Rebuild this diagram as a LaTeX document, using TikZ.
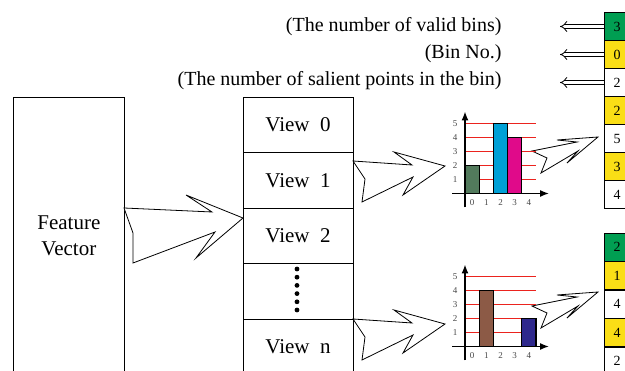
\documentclass[tikz,border=0pt]{standalone}
\usepackage{fontspec}
\setmainfont{Liberation Serif}
\usetikzlibrary{arrows.meta}

\definecolor{binGreen}{RGB}{0,158,82}
\definecolor{binYellow}{RGB}{250,222,22}
\definecolor{gridRed}{RGB}{235,35,30}
\definecolor{barGreen}{RGB}{82,122,92}
\definecolor{barCyan}{RGB}{0,160,214}
\definecolor{barMagenta}{RGB}{224,10,138}
\definecolor{barBrown}{RGB}{140,90,70}
\definecolor{barNavy}{RGB}{46,40,140}
\definecolor{tickGray}{RGB}{70,70,70}

% red level bands of one small histogram, origin at the axes crossing
\newcommand\histgrid{%
  \foreach \k in {1,...,5}
    \fill[gridRed] (0,-\k*14-0.9) rectangle (71,-\k*14+0.9);
}
% tick numbers of one small histogram
\newcommand\histticks{%
  \foreach \k in {1,...,5}
    \node[ticklab] at (-10,-\k*14) {\k};
  \foreach \i in {0,...,4}
    \node[ticklab] at (\i*14.2+7.1,9) {\i};
}
% one bar: bin, height, colour
\newcommand\histbar[3]{%
  \draw[histbarstyle, fill=#3] (#1*14.2,0) rectangle ++(14.2,-#2*14);
}
\newcommand\histaxes{%
  \draw[axisline] (-13,0) -- (84,0);
  \draw[axisline] (0,14) -- (0,-82);
}

\begin{document}
\begin{tikzpicture}[x=1pt,y=-1pt,
  bigtext/.style={font=\fontsize{20}{26}\selectfont},
  boxtext/.style={font=\fontsize{21}{26}\selectfont},
  box/.style={draw, line width=0.8pt, inner sep=0pt},
  viewcell/.style={box, boxtext, minimum width=110pt, minimum height=55.5pt},
  bincell/.style={box, minimum width=26pt, minimum height=28pt,
    font=\fontsize{14}{16}\selectfont},
  histbarstyle/.style={draw=black, line width=1.1pt},
  axisline/.style={draw=black, line width=1.3pt, -{Latex[length=9pt,width=7pt]}},
  ticklab/.style={font=\fontsize{9}{10}\selectfont, text=tickGray, inner sep=0pt},
  bolt/.style={draw, line width=0.8pt, fill=white, line join=miter},
  dblarrow/.style={double, double distance=3pt, line width=0.8pt,
    -{Implies[scale=1.3]}},
]
\useasboundingbox (0,0) rectangle (625,371);
\clip (0,0) rectangle (625,371);

% feature vector
\node[box, boxtext, align=center, minimum width=111pt, minimum height=276pt,
  anchor=north west] (fv) at (13,97) {Feature\\Vector};

% stack of views
\node[viewcell] (v0) at (298,124.75) {View~~0};
\node[viewcell] (v1) at (298,180.25) {View~~1};
\node[viewcell] (v2) at (298,235.75) {View~~2};
\node[viewcell] (vd) at (298,291.25) {};
\node[viewcell] (vn) at (298,346.75) {View~~n};
\foreach \j in {0,...,5}
  \fill (297,269+\j*8.2) circle (2.4);

% broad arrows
\draw[bolt] (124,208) -- (212,212) -- (186,195) -- (243,218) -- (196,258)
  -- (215,232) -- (133,263) -- (133,233) -- cycle;
\draw[bolt] (353,161) -- (412,165) -- (394,152) -- (445,166) -- (403,195)
  -- (413,177) -- (362,202) -- (365,179) -- cycle;
\draw[bolt] (353,319) -- (412,323) -- (394,310) -- (445,324) -- (403,353)
  -- (413,335) -- (362,360) -- (365,337) -- cycle;
\draw[bolt] (532,151) -- (577,142) -- (557,140) -- (598,137) -- (567,163)
  -- (578,151) -- (541,173) -- (547,158) -- cycle;
\draw[bolt] (532,306) -- (577,297) -- (557,295) -- (598,292) -- (567,318)
  -- (578,306) -- (541,328) -- (547,313) -- cycle;

% histogram of view 1
\begin{scope}[shift={(465,193.5)}]
  \coordinate (h1) at (0,0);
  \histgrid
  \histbar{0}{2}{barGreen}
  \histbar{2}{5}{barCyan}
  \histbar{3}{4}{barMagenta}
  \histaxes
\end{scope}

% histogram of view n
\begin{scope}[shift={(465,346.5)}]
  \coordinate (h2) at (0,0);
  \histgrid
  \histbar{1}{4}{barBrown}
  \histbar{4}{2}{barNavy}
  \histaxes
\end{scope}

% encoded bins of view 1
\node[bincell, fill=binGreen]  (a0) at (617,26.5)  {3};
\node[bincell, fill=binYellow] (a1) at (617,54.5)  {0};
\node[bincell]                 (a2) at (617,82.5)  {2};
\node[bincell, fill=binYellow] (a3) at (617,110.5) {2};
\node[bincell]                 (a4) at (617,138.5) {5};
\node[bincell, fill=binYellow] (a5) at (617,166.5) {3};
\node[bincell]                 (a6) at (617,194.5) {4};

% encoded bins of view n
\node[bincell, fill=binGreen]  (b0) at (617,247.25) {2};
\node[bincell, fill=binYellow] (b1) at (617,275.75) {1};
\node[bincell]                 (b2) at (617,304.25) {4};
\node[bincell, fill=binYellow] (b3) at (617,332.75) {4};
\node[bincell]                 (b4) at (617,361.25) {2};

% legend of the encoding
\coordinate (e0) at (560,26.5);
\coordinate (e1) at (560,54.5);
\coordinate (e2) at (560,82.5);
\draw[dblarrow] (a0.west) -- (e0);
\draw[dblarrow] (a1.west) -- (e1);
\draw[dblarrow] (a2.west) -- (e2);
\node[bigtext, anchor=east] (l0) at (505,27) {(The number of valid bins)};
\node[bigtext, anchor=east] (l1) at (505,54) {(Bin No.)};
\node[bigtext, anchor=east] (l2) at (505,81) {(The number of salient points in the bin)};

% tick numbers of both histograms
\begin{scope}[shift={(465,193.5)}]
  \histticks
\end{scope}
\begin{scope}[shift={(465,346.5)}]
  \histticks
\end{scope}
\end{tikzpicture}
\end{document}
